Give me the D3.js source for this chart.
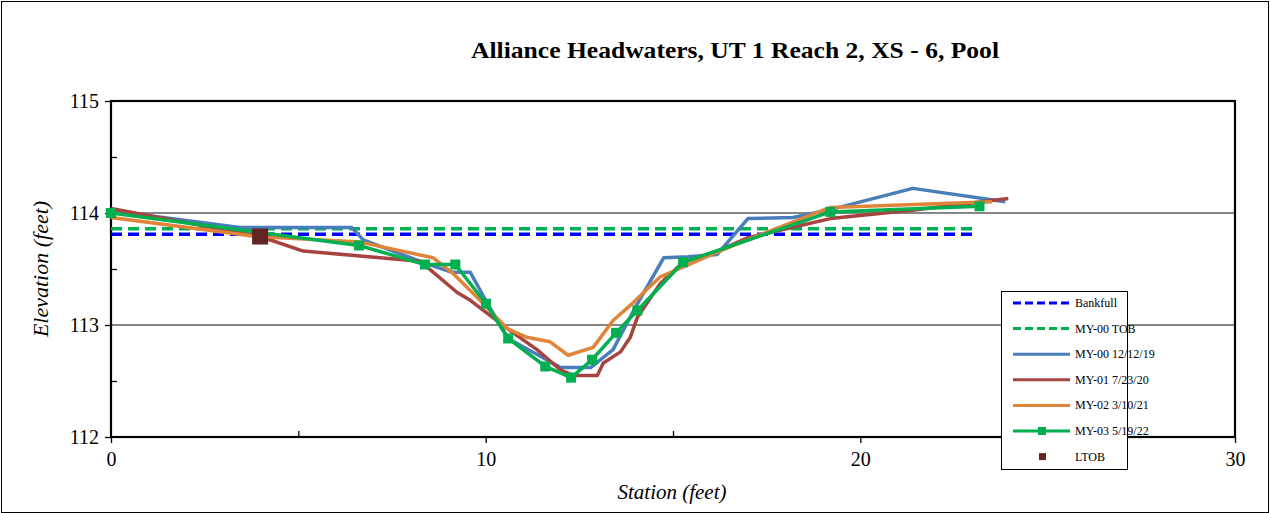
<!DOCTYPE html>
<html lang="en">
<head>
    <meta charset="utf-8">
    <title>Alliance Headwaters XS-6</title>
    <style>
        body {
            margin: 0;
            background: #fff;
            font-family: "Liberation Serif", "Times New Roman", serif;
        }
    </style>
</head>
<body>
<svg class="chart"></svg>
<script src="https://d3js.org/d3.v7.min.js"></script>
<script>

  const title = "Alliance Headwaters, UT 1 Reach 2, XS - 6, Pool";

  const xTicks = [0, 10, 20, 30];
  const yTicks = [112, 113, 114, 115];

  const bankfullX = [0, 23.1];
  const bankfullY = [113.81, 113.81];

  const tobX = [0, 23.1];
  const tobY = [113.86, 113.86];

  const my00X = [0, 3.44, 6.43, 6.73, 8.4, 9.1, 9.59, 10.05, 10.6, 12.0, 12.8, 13.4, 13.95, 14.75, 15.4, 16.18, 17.0, 18.2, 19.2, 21.4, 23.87];
  const my00Y = [114.02, 113.87, 113.87, 113.76, 113.55, 113.47, 113.47, 113.19, 112.88, 112.62, 112.62, 112.78, 113.13, 113.6, 113.61, 113.63, 113.95, 113.96, 114.03, 114.22, 114.1];

  const my01X = [0, 3.98, 5.13, 8.25, 9.24, 9.59, 10.57, 11.37, 11.99, 12.34, 12.98, 13.14, 13.6, 13.86, 14.05, 14.66, 15.27, 16.2, 17.0, 19.2, 21.5, 23.95];
  const my01Y = [114.04, 113.79, 113.66, 113.57, 113.29, 113.22, 112.97, 112.78, 112.6, 112.55, 112.55, 112.66, 112.76, 112.89, 113.07, 113.37, 113.56, 113.66, 113.78, 113.95, 114.03, 114.13];

  const my02X = [0, 3.9, 6.65, 8.6, 9.13, 9.85, 10.57, 11.1, 11.72, 12.2, 12.87, 13.4, 13.94, 14.66, 16.18, 16.98, 19.2, 23.52];
  const my02Y = [113.96, 113.79, 113.74, 113.6, 113.46, 113.22, 112.97, 112.89, 112.85, 112.73, 112.8, 113.04, 113.2, 113.43, 113.65, 113.76, 114.05, 114.1];

  const my03X = [0, 6.62, 8.38, 9.19, 10.01, 10.6, 11.59, 12.28, 12.84, 13.48, 14.05, 15.27, 19.2, 23.18];
  const my03Y = [114.0, 113.71, 113.54, 113.54, 113.19, 112.88, 112.63, 112.53, 112.69, 112.93, 113.13, 113.56, 114.01, 114.06];

  const ltobX = [3.98];
  const ltobY = [113.79];

  const width = 1270;
  const height = 513;
  const margin = {top: 101, right: 35, bottom: 76, left: 111};
  const serif = "'Liberation Serif', 'Times New Roman', serif";

  const zip = (xs, ys) => xs.map((x, i) => [x, ys[i]]);

  const svg = d3.select(".chart")
    .attr("width", width)
    .attr("height", height)
    .attr("font-family", serif);

  // outer chart border
  svg.append("rect")
    .attr("x", 1.5).attr("y", 1.5)
    .attr("width", width - 3).attr("height", height - 2)
    .attr("fill", "none")
    .attr("stroke", "#000")
    .attr("stroke-width", 1);

  const xScale = d3.scaleLinear()
    .domain([0, 30])
    .range([margin.left, width - margin.right]);

  const yScale = d3.scaleLinear()
    .domain([112, 115])
    .range([height - margin.bottom, margin.top]);

  // gridlines
  svg.append("g")
    .selectAll("line")
    .data([113, 114])
    .enter()
    .append("line")
    .attr("x1", xScale(0)).attr("x2", xScale(30))
    .attr("y1", yScale).attr("y2", yScale)
    .attr("stroke", "#5e5e5e")
    .attr("stroke-width", 1.3);

  // minor ticks (inside)
  const yMinor = d3.axisRight(yScale).tickValues([112.5, 113.5, 114.5]).tickSize(6).tickFormat("");
  svg.append("g")
    .attr("transform", `translate(${xScale(0)},0)`)
    .call(yMinor)
    .call(g => g.select(".domain").remove())
    .call(g => g.selectAll("line").attr("stroke-width", 1.3));

  const xMinor = d3.axisTop(xScale).tickValues([5, 15, 25]).tickSize(6).tickFormat("");
  svg.append("g")
    .attr("transform", `translate(0,${yScale(112)})`)
    .call(xMinor)
    .call(g => g.select(".domain").remove())
    .call(g => g.selectAll("line").attr("stroke-width", 1.3));

  // major axes
  const yAxis = d3.axisLeft(yScale).tickValues(yTicks).tickSize(6).tickPadding(6).tickFormat(d3.format("d"));
  svg.append("g")
    .attr("transform", `translate(${xScale(0)},0)`)
    .call(yAxis)
    .call(g => g.select(".domain").remove())
    .call(g => g.selectAll("line").attr("stroke-width", 1.3))
    .call(g => g.selectAll("text")
      .attr("font-family", serif)
      .attr("font-size", 20)
      .attr("fill", "#000"));

  const xAxis = d3.axisBottom(xScale).tickValues(xTicks).tickSize(6).tickPadding(9).tickFormat(d3.format("d"));
  svg.append("g")
    .attr("transform", `translate(0,${yScale(112)})`)
    .call(xAxis)
    .call(g => g.select(".domain").remove())
    .call(g => g.selectAll("line").attr("stroke-width", 1.3))
    .call(g => g.selectAll("text")
      .attr("font-family", serif)
      .attr("font-size", 20)
      .attr("fill", "#000"));

  // plot area frame
  svg.append("rect")
    .attr("x", xScale(0)).attr("y", yScale(115))
    .attr("width", xScale(30) - xScale(0))
    .attr("height", yScale(112) - yScale(115))
    .attr("fill", "none")
    .attr("stroke", "#000")
    .attr("stroke-width", 2.2);

  const line = d3.line()
    .x(d => xScale(d[0]))
    .y(d => yScale(d[1]));

  const series = [
    {name: "Bankfull", data: zip(bankfullX, bankfullY), color: "#0000ff", dash: "11,6", width: 3.5},
    {name: "MY-00 TOB", data: zip(tobX, tobY), color: "#00b050", dash: "11,6", width: 3.5},
    {name: "MY-00 12/12/19", data: zip(my00X, my00Y), color: "#4a7ebb", dash: null, width: 3.5},
    {name: "MY-01 7/23/20", data: zip(my01X, my01Y), color: "#a7433f", dash: null, width: 3.5},
    {name: "MY-02 3/10/21", data: zip(my02X, my02Y), color: "#e0843a", dash: null, width: 3.5},
    {name: "MY-03 5/19/22", data: zip(my03X, my03Y), color: "#00b050", dash: null, width: 3.5, marker: 10}
  ];

  series.forEach(s => {
    svg.append("path")
      .datum(s.data)
      .attr("d", line)
      .attr("fill", "none")
      .attr("stroke", s.color)
      .attr("stroke-width", s.width)
      .attr("stroke-dasharray", s.dash)
      .attr("stroke-linejoin", "round");
    if (s.marker) {
      svg.append("g")
        .selectAll("rect")
        .data(s.data)
        .enter()
        .append("rect")
        .attr("x", d => xScale(d[0]) - s.marker / 2)
        .attr("y", d => yScale(d[1]) - s.marker / 2)
        .attr("width", s.marker)
        .attr("height", s.marker)
        .attr("fill", s.color);
    }
  });

  // LTOB marker
  svg.append("g")
    .selectAll("rect")
    .data(zip(ltobX, ltobY))
    .enter()
    .append("rect")
    .attr("x", d => xScale(d[0]) - 8)
    .attr("y", d => yScale(d[1]) - 8)
    .attr("width", 16)
    .attr("height", 16)
    .attr("fill", "#632523");

  // title + axis titles
  svg.append("text")
    .attr("x", 735).attr("y", 58)
    .attr("text-anchor", "middle")
    .attr("font-size", 24)
    .attr("font-weight", "bold")
    .attr("textLength", 528)
    .attr("lengthAdjust", "spacingAndGlyphs")
    .text(title);

  svg.append("text")
    .attr("transform", `translate(48,${(yScale(112) + yScale(115)) / 2}) rotate(-90)`)
    .attr("text-anchor", "middle")
    .attr("font-size", 22)
    .attr("font-style", "italic")
    .text("Elevation (feet)");

  svg.append("text")
    .attr("x", 672).attr("y", 499)
    .attr("text-anchor", "middle")
    .attr("font-size", 21)
    .attr("font-style", "italic")
    .text("Station (feet)");

  // legend
  const legend = svg.append("g").attr("transform", "translate(1001,291)");
  legend.append("rect")
    .attr("x", 0.5).attr("y", 0.5)
    .attr("width", 126).attr("height", 178)
    .attr("fill", "#fff")
    .attr("stroke", "#000")
    .attr("stroke-width", 1);

  const legendItems = series.concat([{name: "LTOB", color: "#632523", ltob: true}]);
  legendItems.forEach((s, i) => {
    const y = 12 + i * 25.6;
    if (s.ltob) {
      legend.append("rect")
        .attr("x", 38).attr("y", y - 3.5)
        .attr("width", 7).attr("height", 7)
        .attr("fill", s.color);
    } else {
      legend.append("line")
        .attr("x1", 12).attr("x2", 69)
        .attr("y1", y).attr("y2", y)
        .attr("stroke", s.color)
        .attr("stroke-width", 3)
        .attr("stroke-dasharray", s.dash ? "8,4" : null);
      if (s.marker) {
        legend.append("rect")
          .attr("x", 37).attr("y", y - 4)
          .attr("width", 8).attr("height", 8)
          .attr("fill", s.color);
      }
    }
    legend.append("text")
      .attr("x", 74).attr("y", y + 4)
      .attr("font-size", 12)
      .text(s.name);
  });

</script>

</body>
</html>
